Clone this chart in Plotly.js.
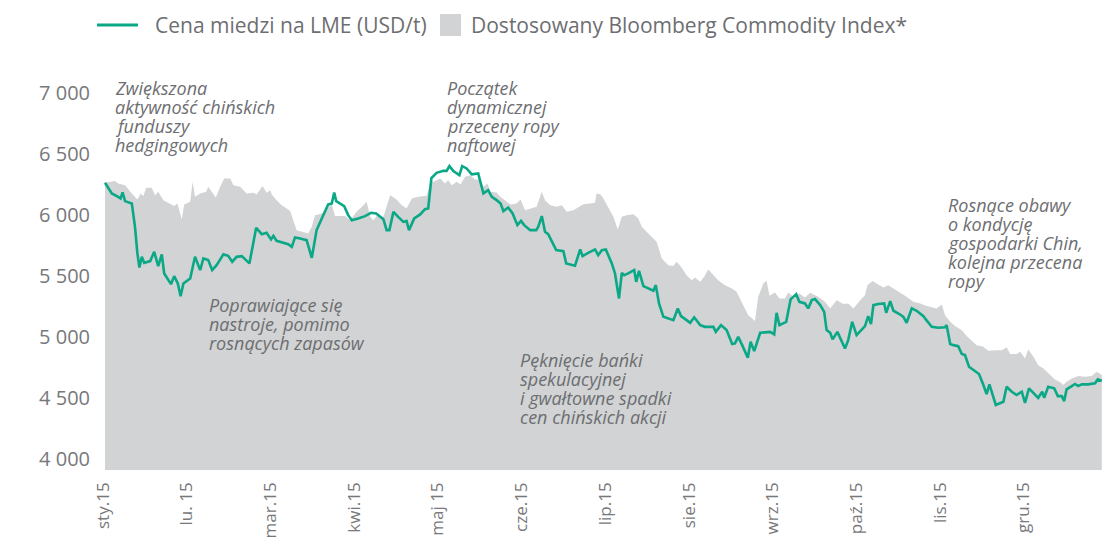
<!DOCTYPE html>
<html>
<head>
<meta charset="utf-8">
<script src="https://cdn.plot.ly/plotly-3.0.1.min.js"></script>
<style>html,body{margin:0;padding:0;background:#fff;}#chart{width:1106px;height:540px;}</style>
</head>
<body>
<div id="chart"></div>
<script>
// Trading-day index (x) and copper price on LME, USD/t
const copperDay = [0,1.7,3.3,3.9,4.4,5,6.7,7.5,8.1,8.6,9.2,9.8,11.3,12.3,13.3,14.2,14.8,16.5,17.3,18.2,18.9,19.6,21.3,22.5,23.8,24.6,25.8,26.8,27.9,29.6,30.8,31.8,32.9,34.2,36.1,37.8,39.2,40.4,41.5,42.1,42.9,44.6,45.8,46.7,47.5,48.8,50.4,51.7,52.9,54.2,55.8,56.7,57.3,57.8,58.8,59.8,60.8,61.7,63.3,65,66.5,67.8,69.6,70.4,71.1,72.1,73.3,74.6,75.4,76,77.3,78.8,80,80.8,81.6,82.9,84.6,85.4,86.1,87.1,88.6,89.3,90.4,91.7,93.3,94.6,95.8,96.7,97.9,98.9,99.6,100.8,101.9,103.1,104,104.8,106.3,107.8,108.3,109.2,110,110.8,112.8,114.6,115.3,117.5,118.8,119.4,120.8,122.5,123.3,124.2,125.2,126.7,127.5,128.5,129.2,129.8,130.8,132.3,132.8,133.5,134.6,135.8,137.1,137.7,138.5,139.6,141.3,142.1,143.2,144,145.4,146.3,147.3,148.8,150,152.1,152.7,154,155.4,156.8,157.5,158.3,159.3,160.7,161.4,162.3,163.8,166.3,167.3,167.9,168.6,170.3,171.4,172.8,173.6,175,175.8,176.7,177.5,178.8,179.8,180.4,181.3,181.9,183.1,184,185,185.8,186.8,187.9,189.2,190,190.8,191.5,192.1,193.3,194.8,195.3,196.3,197.1,198.6,199.6,200.4,201.7,202.9,204.6,205,206.7,208.3,210,210.4,211.3,212.1,213.3,214.2,215,216,217.5,218.5,219.6,220.4,221.1,222.7,224.6,225.4,226.7,227.9,229.2,230,231,232.1,233.3,234.3,234.8,235.8,237.3,238.2,239.2,239.8,240.4,241.7,242.5,243.3,244.2,245.8,247.5,248.2,249.2];
const copperPrice = [6265,6178,6150,6137,6186,6115,6096,5904,5686,5571,5658,5609,5623,5699,5582,5678,5522,5434,5500,5440,5336,5440,5481,5658,5549,5645,5631,5549,5590,5678,5666,5617,5658,5664,5604,5896,5844,5855,5801,5830,5789,5773,5762,5740,5817,5809,5795,5650,5877,5973,6088,6096,6186,6115,6096,6074,6000,5959,5973,5992,6019,6014,5967,5877,5877,6027,5986,5945,5951,5877,5973,6006,6049,6055,6303,6347,6363,6363,6402,6361,6328,6402,6383,6334,6342,6178,6205,6150,6123,6096,6033,6063,6014,5918,5953,5918,5877,5877,5904,5992,5863,5844,5713,5705,5604,5585,5719,5664,5691,5719,5672,5713,5719,5604,5522,5317,5527,5508,5522,5549,5453,5543,5418,5399,5380,5426,5276,5166,5145,5139,5235,5172,5139,5117,5162,5098,5084,5084,5043,5098,5057,4943,4948,5002,4934,4830,4961,4885,5035,5043,5022,5199,5098,5125,5309,5352,5289,5276,5235,5303,5312,5262,5207,5057,5035,4981,5043,4975,4907,4975,5125,5016,5057,5090,5172,5107,5262,5271,5276,5199,5295,5216,5189,5166,5117,5235,5216,5172,5153,5084,5076,5080,5098,4943,4934,4926,4861,4852,4757,4724,4697,4607,4533,4612,4443,4470,4593,4552,4525,4552,4461,4580,4543,4502,4552,4502,4593,4580,4516,4516,4475,4571,4598,4615,4598,4612,4612,4621,4653,4642];

// Adjusted Bloomberg Commodity Index (scaled to the price axis)
const bcomDay = [0,2.5,3.3,5,6.7,8.1,8.9,9.6,10.3,11.7,12.5,13.3,14.6,15.8,17.3,18.1,19.2,19.8,21.3,21.9,22.5,23.8,25.3,25.8,26.7,27.7,28.8,29.8,31.3,32.1,33.8,35.4,37.1,37.9,39.4,40.4,41.3,41.7,42.9,44.2,45.4,46.3,47.9,49.6,50.8,51.7,52.5,54.2,55.4,56.7,57.5,60,61.3,62.9,64.6,65.4,66.3,67.1,67.9,69.6,71.3,72.9,74.2,75.4,76.7,78.3,80.4,81.3,82.1,83.8,85,85.8,86.7,87.9,88.9,90,91.3,92.5,93.8,94.6,95.6,96.3,97.9,98.8,100,101.3,102.9,103.9,105,106.3,107.9,109.2,110,111.3,112.9,114.2,115.4,117.1,118.3,119.6,121.3,122.5,122.9,123.8,124.6,125.8,127.1,128.2,129.2,130.4,132.1,133.3,134.2,135.4,136.7,137.9,139.2,140.8,142.1,142.9,144,145.4,146.7,147.5,148.8,149.8,150.8,152.1,153.3,155,156.7,157.9,158.5,159.6,160.8,161.8,162.5,163.3,164.2,164.6,165.4,166.1,167.5,168.6,170,170.8,172.1,173.6,175,176.3,177.5,178.3,180,181.3,182.9,184.6,185.8,187.1,188.8,190,190.6,191.9,193.3,194.6,195.8,197.1,198.6,200.4,202.1,203.8,205.4,206.7,207.9,209.2,210,211.3,212.5,214.2,215.4,216.7,217.9,219.6,220.8,222.5,224.2,225.4,226.3,227.9,228.8,230,230.8,232.1,233.3,234.6,236.3,237.5,238.8,239.6,240.4,241.7,243.3,245,246.7,247.9,249.2];
const bcomIndex = [6265,6279,6260,6246,6178,6129,6178,6156,6224,6224,6164,6191,6123,6104,6074,6096,5965,6088,6109,6273,6150,6178,6191,6232,6191,6145,6232,6301,6301,6246,6232,6178,6183,6170,6238,6183,6205,6170,6123,6082,6055,6033,5877,5863,5850,5904,6000,6014,6047,6090,5992,5992,5959,6027,6082,6109,5986,5959,5992,5986,6164,6129,6082,6055,6137,6150,6158,6260,6273,6301,6260,6287,6246,6273,6252,6314,6328,6293,6293,6232,6260,6191,6186,6150,6123,6088,6096,6129,6041,6055,6068,6191,6123,6082,6068,6082,6027,6041,6063,6090,6096,6101,6178,6172,6137,6068,5986,5883,5986,6000,6008,5973,5904,5863,5822,5781,5645,5590,5582,5617,5576,5508,5467,5489,5453,5494,5555,5508,5467,5426,5399,5371,5330,5248,5180,5153,5131,5330,5399,5440,5462,5339,5366,5317,5317,5366,5330,5358,5325,5363,5344,5330,5289,5235,5303,5271,5276,5235,5303,5344,5426,5459,5432,5407,5426,5399,5371,5330,5289,5276,5254,5243,5235,5268,5180,5125,5090,5057,5008,4970,4934,4921,4888,4893,4893,4916,4861,4861,4880,4825,4899,4839,4770,4743,4689,4653,4629,4607,4634,4661,4680,4675,4680,4716,4689];

// Month tick labels (placed at month starts on the trading-day axis)
const monthTicks = [-0.5,20.4,41.4,62.3,83.2,104.1,125.1,146,166.9,187.8,208.8,229.7];
const monthLabels = ["sty.15","lu. 15","mar.15","kwi.15","maj 15","cze.15","lip.15","sie.15","wrz.15","paź.15","lis.15","gru.15"];
const yTicks = [4000,4500,5000,5500,6000,6500,7000];
const yLabels = ["4 000","4 500","5 000","5 500","6 000","6 500","7 000"];

const seriesNames = ["Cena miedzi na LME (USD/t)","Dostosowany Bloomberg Commodity Index*"];
const notes = [
  ["Zwiększona","aktywność chińskich","funduszy","hedgingowych"],
  ["Początek","dynamicznej","przeceny ropy","naftowej"],
  ["Poprawiające się","nastroje, pomimo","rosnących zapasów"],
  ["Pęknięcie bańki","spekulacyjnej","i gwałtowne spadki","cen chińskich akcji"],
  ["Rosnące obawy","o kondycję","gospodarki Chin,","kolejna przecena","ropy"]
];

const W = 1106, H = 540, ML = 103, MR = 4, MT = 81, MB = 70;
const PW = W - ML - MR, PH = H - MT - MB;
const px = x => (x - ML) / PW;
const py = y => (H - MB - y) / PH;

const TEAL = '#0aa886', GREY = '#d1d3d4', TXT = '#6d6e71', FONT = 'Open Sans';

const noteAnchors = [[113, 88], [445, 88], [207, 305], [518, 360], [946, 205]];
const annotations = [];
notes.forEach((lines, i) => {
  lines.forEach((t, j) => {
    annotations.push({
      xref: 'paper', yref: 'paper', x: px(noteAnchors[i][0]), y: py(noteAnchors[i][1] + j * 19),
      xanchor: 'left', yanchor: 'middle', showarrow: false, text: t,
      font: {family: FONT, size: 18, color: TXT, style: 'italic'}
    });
  });
});
// legend texts
annotations.push({xref:'paper', yref:'paper', x: px(153), y: py(25), xanchor:'left', yanchor:'middle', showarrow:false,
  text: seriesNames[0], font:{family: FONT, size: 21, color: TXT}});
annotations.push({xref:'paper', yref:'paper', x: px(469), y: py(25), xanchor:'left', yanchor:'middle', showarrow:false,
  text: seriesNames[1], font:{family: FONT, size: 21, color: TXT}});

const shapes = [
  {type:'line', xref:'paper', yref:'paper', x0: px(97), x1: px(138), y0: py(25), y1: py(25), line:{color: TEAL, width: 3}},
  {type:'rect', xref:'paper', yref:'paper', x0: px(440), x1: px(461), y0: py(14), y1: py(36), fillcolor: GREY, line:{width:0}}
];

const traces = [
  {x: bcomDay, y: bcomIndex, type:'scatter', mode:'lines', fill:'tozeroy', fillcolor: GREY,
   line:{width:0, color: GREY}, name: seriesNames[1], showlegend:false, hoverinfo:'skip'},
  {x: copperDay, y: copperPrice, type:'scatter', mode:'lines', line:{color: TEAL, width: 2.6},
   name: seriesNames[0], showlegend:false}
];

const layout = {
  width: W, height: H,
  margin: {l: ML, r: MR, t: MT, b: MB, pad: 0},
  paper_bgcolor: '#fff', plot_bgcolor: '#fff',
  font: {family: FONT, color: TXT},
  showlegend: false,
  xaxis: {range: [-0.5, 249.25], tickvals: monthTicks, ticktext: monthLabels, tickangle: -90,
    showgrid: false, zeroline: false, showline: false, ticks: '', ticklabelstandoff: 8,
    tickfont: {family: FONT, size: 17, color: '#77787b'}},
  yaxis: {range: [3910, 7100], tickvals: yTicks, ticktext: yLabels,
    showgrid: false, zeroline: false, showline: false, ticks: '', ticklabelstandoff: 12,
    tickfont: {family: FONT, size: 20, color: '#77787b'}},
  annotations: annotations,
  shapes: shapes
};

Plotly.newPlot('chart', traces, layout, {staticPlot: true, displayModeBar: false});
</script>
</body>
</html>
